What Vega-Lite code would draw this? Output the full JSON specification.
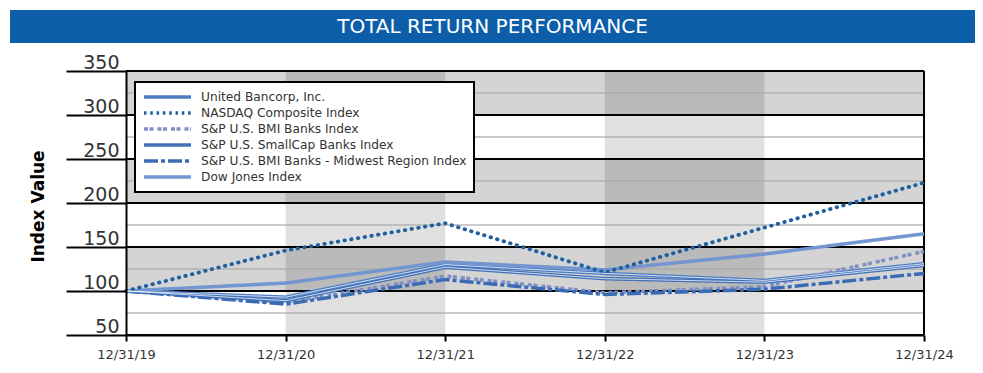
{
  "$schema": "https://vega.github.io/schema/vega-lite/v6.json",
  "padding": {"left": 10, "top": 10, "right": 8, "bottom": 5},
  "background": "white",
  "spacing": 10,
  "resolve": {"scale": {"color": "independent", "strokeDash": "independent"}},
  "config": {
    "view": {"stroke": null},
    "font": "DejaVu Sans",
    "legend": {
      "orient": "none",
      "legendX": 9,
      "legendY": 11,
      "padding": 7,
      "fillColor": "white",
      "strokeColor": "black",
      "strokeWidth": 2,
      "symbolType": "stroke",
      "symbolSize": 2209,
      "symbolStrokeWidth": 3.5,
      "clipHeight": 16,
      "rowPadding": 0,
      "labelFont": "DejaVu Sans",
      "labelFontSize": 12.2,
      "labelColor": "#333333",
      "labelOffset": 8,
      "labelLimit": 400
    }
  },
  "datasets": {
    "series": [
      {"series": "United Bancorp, Inc.", "year": 2019, "value": 100},
      {"series": "United Bancorp, Inc.", "year": 2020, "value": 93},
      {"series": "United Bancorp, Inc.", "year": 2021, "value": 130},
      {"series": "United Bancorp, Inc.", "year": 2022, "value": 120},
      {"series": "United Bancorp, Inc.", "year": 2023, "value": 112},
      {"series": "United Bancorp, Inc.", "year": 2024, "value": 131},
      {"series": "NASDAQ Composite Index", "year": 2019, "value": 100},
      {"series": "NASDAQ Composite Index", "year": 2020, "value": 146},
      {"series": "NASDAQ Composite Index", "year": 2021, "value": 177},
      {"series": "NASDAQ Composite Index", "year": 2022, "value": 121},
      {"series": "NASDAQ Composite Index", "year": 2023, "value": 172},
      {"series": "NASDAQ Composite Index", "year": 2024, "value": 223},
      {"series": "S&P U.S. BMI Banks Index", "year": 2019, "value": 100},
      {"series": "S&P U.S. BMI Banks Index", "year": 2020, "value": 87},
      {"series": "S&P U.S. BMI Banks Index", "year": 2021, "value": 117},
      {"series": "S&P U.S. BMI Banks Index", "year": 2022, "value": 98},
      {"series": "S&P U.S. BMI Banks Index", "year": 2023, "value": 105},
      {"series": "S&P U.S. BMI Banks Index", "year": 2024, "value": 145},
      {"series": "S&P U.S. SmallCap Banks Index", "year": 2019, "value": 100},
      {"series": "S&P U.S. SmallCap Banks Index", "year": 2020, "value": 89},
      {"series": "S&P U.S. SmallCap Banks Index", "year": 2021, "value": 127},
      {"series": "S&P U.S. SmallCap Banks Index", "year": 2022, "value": 114},
      {"series": "S&P U.S. SmallCap Banks Index", "year": 2023, "value": 110},
      {"series": "S&P U.S. SmallCap Banks Index", "year": 2024, "value": 129},
      {"series": "S&P U.S. BMI Banks - Midwest Region Index", "year": 2019, "value": 100},
      {"series": "S&P U.S. BMI Banks - Midwest Region Index", "year": 2020, "value": 85},
      {"series": "S&P U.S. BMI Banks - Midwest Region Index", "year": 2021, "value": 113},
      {"series": "S&P U.S. BMI Banks - Midwest Region Index", "year": 2022, "value": 96},
      {"series": "S&P U.S. BMI Banks - Midwest Region Index", "year": 2023, "value": 102},
      {"series": "S&P U.S. BMI Banks - Midwest Region Index", "year": 2024, "value": 120},
      {"series": "Dow Jones Index", "year": 2019, "value": 100},
      {"series": "Dow Jones Index", "year": 2020, "value": 109},
      {"series": "Dow Jones Index", "year": 2021, "value": 133},
      {"series": "Dow Jones Index", "year": 2022, "value": 124},
      {"series": "Dow Jones Index", "year": 2023, "value": 142},
      {"series": "Dow Jones Index", "year": 2024, "value": 165}
    ],
    "bands": [{"lo": 100, "hi": 150}, {"lo": 200, "hi": 250}, {"lo": 300, "hi": 350}],
    "cols": [{"from": 2020, "to": 2021}, {"from": 2022, "to": 2023}],
    "minor": [{"v": 75}, {"v": 125}, {"v": 175}, {"v": 225}, {"v": 275}, {"v": 325}],
    "major": [{"v": 50}, {"v": 100}, {"v": 150}, {"v": 200}, {"v": 250}, {"v": 300}, {"v": 350}],
    "border": [{"year": 2024}],
    "banner": [{"label": "TOTAL RETURN PERFORMANCE"}],
    "empty": []
  },
  "vconcat": [
    {
      "width": 965,
      "height": 33,
      "view": {"fill": "#0b5ea7", "stroke": null},
      "data": {"name": "banner"},
      "mark": {"type": "text", "color": "white", "fontSize": 20, "font": "DejaVu Sans", "baseline": "middle", "align": "center"},
      "encoding": {"text": {"field": "label"}}
    },
    {
      "spacing": 0.01,
      "resolve": {"scale": {"color": "independent", "strokeDash": "independent"}},
      "hconcat": [
        {
          "width": 0.001,
          "height": 264,
          "data": {"name": "empty"},
          "mark": {"type": "point"}
        },
        {
          "width": 798,
          "height": 264,
          "layer": [
            {
              "data": {"name": "bands"},
              "mark": {"type": "rect", "color": "#d4d4d4"},
              "encoding": {
                "x": {"datum": 2019, "type": "quantitative", "title": null,
                  "scale": {"domain": [2019, 2024], "nice": false, "zero": false},
                  "axis": {"values": [2019, 2020, 2021, 2022, 2023, 2024], "labelExpr": "'12/31/' + substring(toString(datum.value), 2, 4)", "tickSize": 6, "tickWidth": 2, "tickColor": "black", "domainColor": "black", "domainWidth": 2, "labelFontSize": 13, "labelColor": "#333333", "labelPadding": 7, "labelFlush": false, "labelOverlap": false, "grid": false, "zindex": 1}},
                "x2": {"datum": 2024},
                "y": {"field": "lo", "type": "quantitative", "title": "Index Value",
                  "scale": {"domain": [50, 350], "nice": false, "zero": false},
                  "axis": {"values": [50, 100, 150, 200, 250, 300, 350], "tickSize": 60, "tickWidth": 2, "tickColor": "black", "domainColor": "black", "domainWidth": 2, "labelPadding": -53, "labelAlign": "right", "labelBaseline": "alphabetic", "labelOffset": -3, "labelFontSize": 19, "labelColor": "#333333", "titleFontSize": 17, "titleFontWeight": "bold", "titleColor": "black", "titleX": -88, "titleY": 135, "titleBaseline": "middle", "titleAngle": -90, "minExtent": 115, "maxExtent": 115, "grid": false, "zindex": 1}},
                "y2": {"field": "hi"}
              }
            },
            {
              "data": {"name": "cols"},
              "mark": {"type": "rect", "color": "black", "opacity": 0.12},
              "encoding": {
                "x": {"field": "from", "type": "quantitative", "title": null},
                "x2": {"field": "to"},
                "y": {"datum": 50, "type": "quantitative", "title": "Index Value"},
                "y2": {"datum": 350}
              }
            },
            {
              "data": {"name": "minor"},
              "mark": {"type": "rule", "color": "#a8a8a8", "opacity": 0.6, "strokeWidth": 2},
              "encoding": {
                "x": {"datum": 2019, "type": "quantitative", "title": null},
                "x2": {"datum": 2024},
                "y": {"field": "v", "type": "quantitative", "title": "Index Value"}
              }
            },
            {
              "data": {"name": "major"},
              "mark": {"type": "rule", "color": "black", "strokeWidth": 2},
              "encoding": {
                "x": {"datum": 2019, "type": "quantitative", "title": null},
                "x2": {"datum": 2024},
                "y": {"field": "v", "type": "quantitative", "title": "Index Value"}
              }
            },
            {
              "data": {"name": "border"},
              "mark": {"type": "rule", "color": "black", "strokeWidth": 2},
              "encoding": {
                "x": {"field": "year", "type": "quantitative", "title": null},
                "y": {"datum": 50, "type": "quantitative", "title": "Index Value"},
                "y2": {"datum": 350}
              }
            },
            {
              "data": {"name": "series"},
              "transform": [{"filter": "datum.series !== 'NASDAQ Composite Index'"}],
              "mark": {"type": "line", "strokeWidth": 3.5, "strokeCap": "butt"},
              "encoding": {
                "x": {"field": "year", "type": "quantitative", "title": null},
                "y": {"field": "value", "type": "quantitative", "title": "Index Value"},
                "color": {"field": "series", "type": "nominal", "legend": {"title": null},
                  "scale": {"domain": ["United Bancorp, Inc.", "NASDAQ Composite Index", "S&P U.S. BMI Banks Index", "S&P U.S. SmallCap Banks Index", "S&P U.S. BMI Banks - Midwest Region Index", "Dow Jones Index"],
                    "range": ["#4a7cc4", "#1d5f9f", "#7f90c6", "#3f70b8", "#3a6bb4", "#7396d0"]}},
                "strokeDash": {"field": "series", "type": "nominal", "legend": {"title": null},
                  "scale": {"domain": ["United Bancorp, Inc.", "NASDAQ Composite Index", "S&P U.S. BMI Banks Index", "S&P U.S. SmallCap Banks Index", "S&P U.S. BMI Banks - Midwest Region Index", "Dow Jones Index"],
                    "range": [[1, 0], [2.5, 3.8], [4, 1.5, 4, 4], [1, 0], [14, 3, 4, 3], [1, 0]]}}
              }
            },
            {
              "data": {"name": "series"},
              "transform": [{"filter": "datum.series === 'NASDAQ Composite Index'"}],
              "mark": {"type": "line", "strokeWidth": 3.8, "strokeCap": "round", "strokeDash": [0.5, 6.3]},
              "encoding": {
                "x": {"field": "year", "type": "quantitative", "title": null},
                "y": {"field": "value", "type": "quantitative", "title": "Index Value"},
                "color": {"field": "series", "type": "nominal", "legend": {"title": null}}
              }
            },
            {
              "data": {"name": "series"},
              "transform": [{"filter": "datum.series === 'United Bancorp, Inc.' || datum.series === 'S&P U.S. SmallCap Banks Index'"}],
              "mark": {"type": "line", "strokeWidth": 1, "color": "white", "opacity": 0.75},
              "encoding": {
                "x": {"field": "year", "type": "quantitative", "title": null},
                "y": {"field": "value", "type": "quantitative", "title": "Index Value"},
                "detail": {"field": "series", "type": "nominal"}
              }
            }
          ]
        }
      ]
    }
  ]
}
